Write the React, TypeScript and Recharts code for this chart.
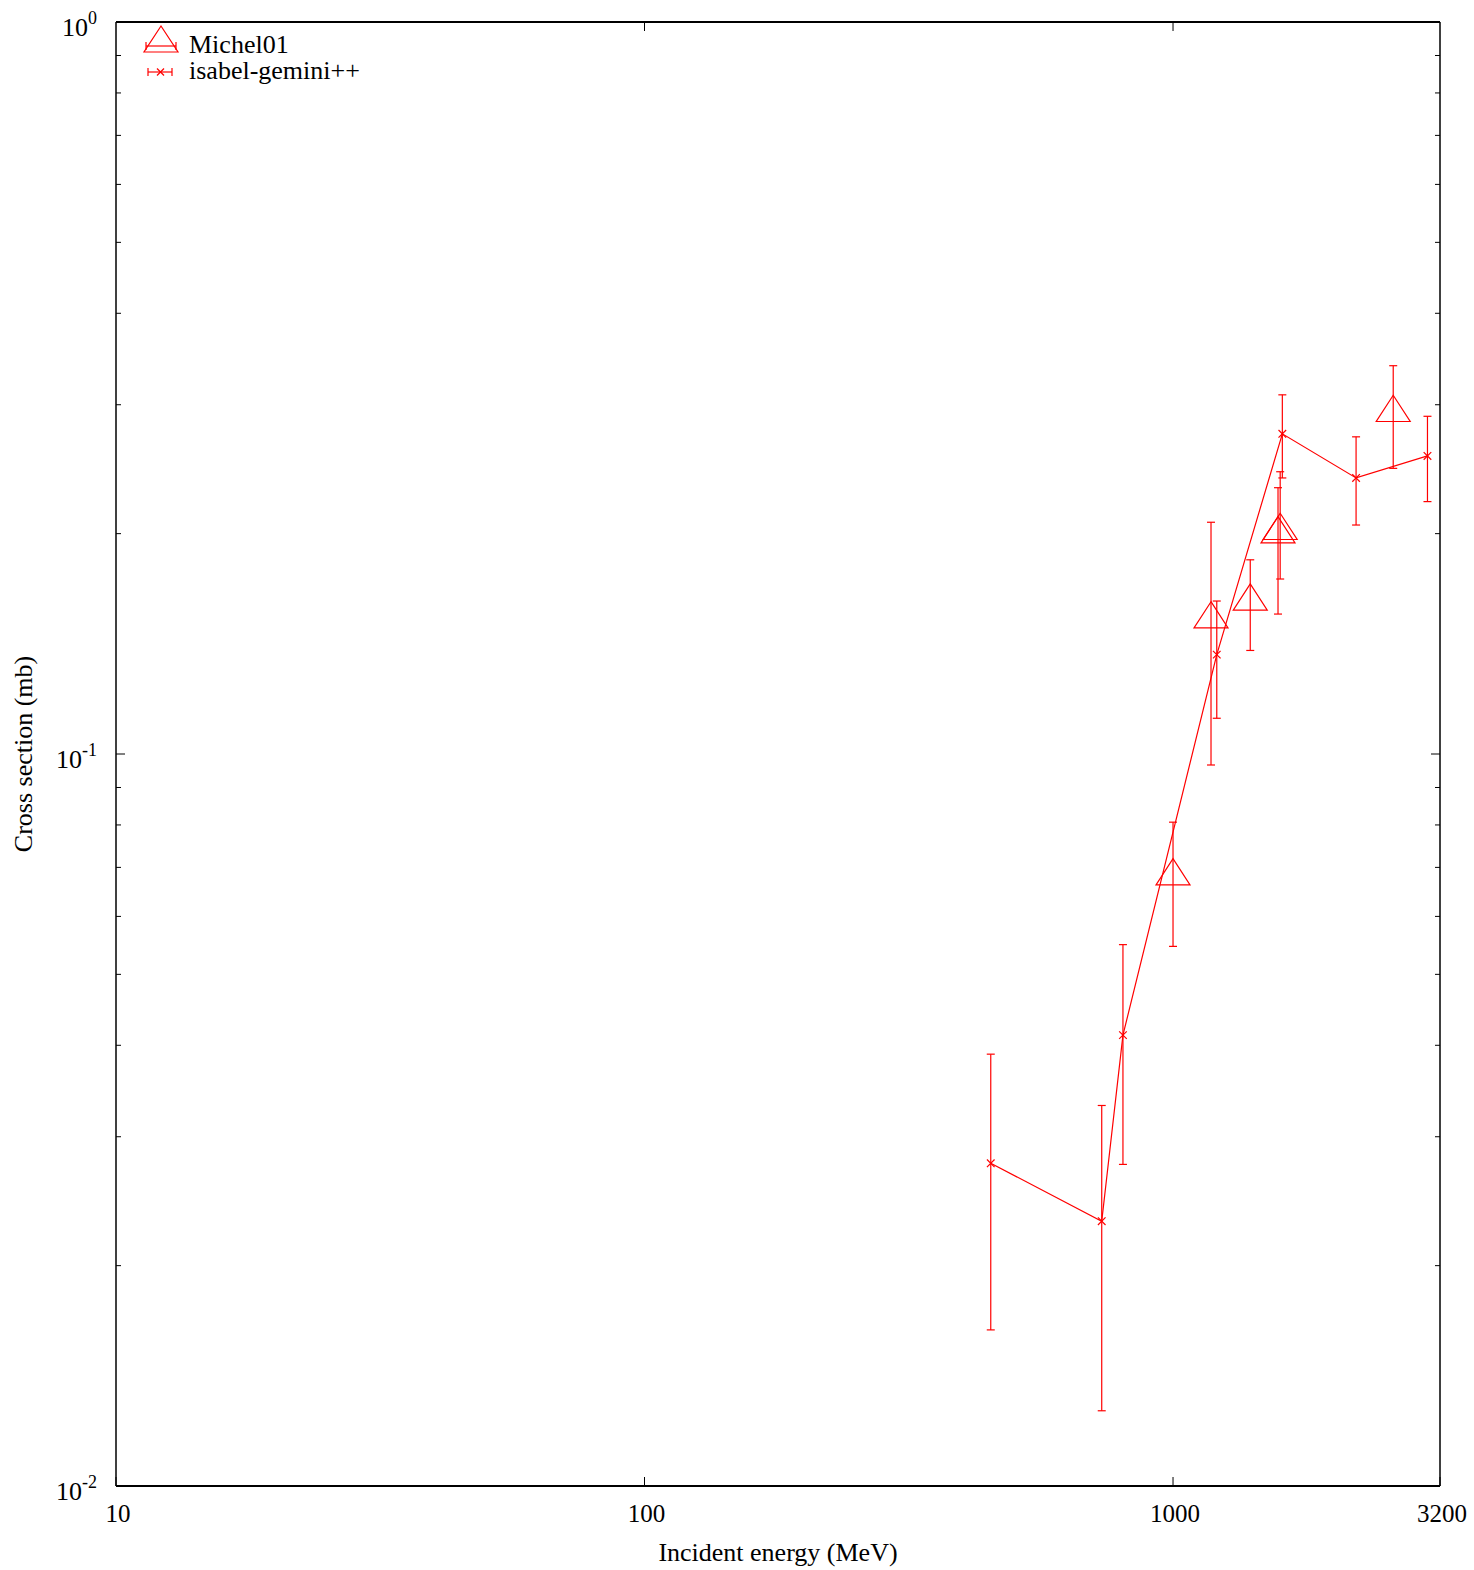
import React from 'react'
import { ComposedChart, Scatter, XAxis, YAxis, ErrorBar, Legend, Label } from 'recharts'

// Michel01 measurements (energy MeV, cross section mb, error bounds)
const michelEnergy = [1000, 1180, 1400, 1595, 1580, 2610]
const michelXs = [0.0681, 0.1528, 0.1616, 0.2018, 0.1997, 0.2925]
const michelLow = [0.0546, 0.0966, 0.1385, 0.1734, 0.1553, 0.2456]
const michelHigh = [0.0807, 0.2073, 0.1842, 0.243, 0.2311, 0.3392]

// isabel-gemini++ calculation
const isabelEnergy = [452, 733, 804, 1210, 1610, 2220, 3030]
const isabelXs = [0.0276, 0.023, 0.0413, 0.1367, 0.2738, 0.2383, 0.2554]
const isabelLow = [0.01634, 0.01267, 0.0275, 0.1119, 0.2383, 0.2055, 0.2212]
const isabelHigh = [0.0389, 0.0331, 0.0549, 0.1618, 0.3095, 0.2712, 0.2893]

const xTicks = [10, 100, 1000, 3200]
const yTicks = [
  0.01, 0.02, 0.03, 0.04, 0.05, 0.06, 0.07, 0.08, 0.09,
  0.1, 0.2, 0.3, 0.4, 0.5, 0.6, 0.7, 0.8, 0.9, 1,
]

const RED = '#ff0000'
const FONT = '"Liberation Serif", "Times New Roman", serif'

const buildSeries = (xs: number[], ys: number[], lo: number[], hi: number[]) =>
  xs.map((x, i) => ({ x, y: ys[i], err: [ys[i] - lo[i], hi[i] - ys[i]] }))

const michelData = buildSeries(michelEnergy, michelXs, michelLow, michelHigh)
const isabelData = buildSeries(isabelEnergy, isabelXs, isabelLow, isabelHigh)

const isMajor = (v: number) => Math.abs(Math.log10(v) - Math.round(Math.log10(v))) < 1e-6

function Triangle({ cx, cy }: any) {
  if (cx == null || cy == null) return null
  const pts = `${cx},${cy - 17.5} ${cx - 17},${cy + 8.7} ${cx + 17},${cy + 8.7}`
  return <polygon points={pts} fill="none" stroke={RED} strokeWidth={1.2} />
}

function Cross({ cx, cy }: any) {
  if (cx == null || cy == null) return null
  const s = 3.8
  return (
    <g stroke={RED} strokeWidth={1.2}>
      <line x1={cx - s} y1={cy - s} x2={cx + s} y2={cy + s} />
      <line x1={cx - s} y1={cy + s} x2={cx + s} y2={cy - s} />
    </g>
  )
}

function LeftTick({ x, y, payload }: any) {
  const v = payload.value
  const major = isMajor(v)
  return (
    <g>
      <line x1={x} x2={x + (major ? 9 : 5)} y1={y} y2={y} stroke="#000" />
      {major && (
        <text x={x - 19} y={y + 14} textAnchor="end" fontFamily={FONT} fontSize={26} fill="#000">
          <tspan>10</tspan>
          <tspan dy={-12} fontSize={18}>{Math.round(Math.log10(v))}</tspan>
        </text>
      )}
    </g>
  )
}

function RightTick({ x, y, payload }: any) {
  const major = isMajor(payload.value)
  return <line x1={x} x2={x - (major ? 9 : 5)} y1={y} y2={y} stroke="#000" />
}

function BottomTick({ x, y, payload }: any) {
  return (
    <g>
      <line x1={x} x2={x} y1={y} y2={y - 9} stroke="#000" />
      <text x={x + 2} y={y + 36} textAnchor="middle" fontFamily={FONT} fontSize={25} fill="#000">
        {payload.value}
      </text>
    </g>
  )
}

function TopTick({ x, y }: any) {
  return <line x1={x} x2={x} y1={y} y2={y + 9} stroke="#000" />
}

function LegendBox() {
  return (
    <svg width={260} height={70} style={{ overflow: 'visible' }}>
      <g stroke={RED} strokeWidth={1.2} fill="none">
        <polygon points="21,6 4,32 38,32" />
        <line x1={6} x2={36} y1={26} y2={26} />
        <line x1={6} x2={6} y1={22} y2={30} />
        <line x1={36} x2={36} y1={22} y2={30} />
        <line x1={8} x2={32} y1={52} y2={52} />
        <line x1={8} x2={8} y1={48} y2={56} />
        <line x1={32} x2={32} y1={48} y2={56} />
        <line x1={17} y1={48.5} x2={24} y2={55.5} />
        <line x1={17} y1={55.5} x2={24} y2={48.5} />
      </g>
      <text x={49} y={33} fontFamily={FONT} fontSize={26} fill="#000">Michel01</text>
      <text x={49} y={59} fontFamily={FONT} fontSize={26} fill="#000">isabel-gemini++</text>
    </svg>
  )
}

export default function App() {
  return (
    <div style={{ position: 'absolute', left: 0, top: 0, background: '#fff' }}>
      <ComposedChart width={1474} height={1570} margin={{ top: 0, right: 0, bottom: 0, left: 0 }}>
        <XAxis
          xAxisId="bottom"
          dataKey="x"
          type="number"
          scale="log"
          domain={[10, 3200]}
          ticks={xTicks}
          interval={0}
          allowDataOverflow
          height={84}
          tickSize={0}
          tickMargin={0}
          tick={<BottomTick />}
          axisLine={{ stroke: '#000', strokeWidth: 2 }}
        >
          <Label
            content={({ viewBox }: any) => (
              <text
                x={viewBox.x + viewBox.width / 2}
                y={viewBox.y + 75}
                textAnchor="middle"
                fontFamily={FONT}
                fontSize={26}
                fill="#000"
              >
                Incident energy (MeV)
              </text>
            )}
          />
        </XAxis>
        <XAxis
          xAxisId="top"
          orientation="top"
          dataKey="x"
          type="number"
          scale="log"
          domain={[10, 3200]}
          ticks={[100, 1000]}
          interval={0}
          allowDataOverflow
          height={22}
          tickSize={0}
          tickMargin={0}
          tick={<TopTick />}
          axisLine={{ stroke: '#000', strokeWidth: 2 }}
        />
        <YAxis
          yAxisId="left"
          dataKey="y"
          type="number"
          scale="log"
          domain={[0.01, 1]}
          ticks={yTicks}
          interval={0}
          allowDataOverflow
          width={116}
          tickSize={0}
          tickMargin={0}
          tick={<LeftTick />}
          axisLine={{ stroke: '#000', strokeWidth: 1.5 }}
        >
          <Label
            content={({ viewBox }: any) => {
              const cx = viewBox.x + 32
              const cy = viewBox.y + viewBox.height / 2
              return (
                <text
                  x={cx}
                  y={cy}
                  transform={`rotate(-90, ${cx}, ${cy})`}
                  textAnchor="middle"
                  fontFamily={FONT}
                  fontSize={26}
                  fill="#000"
                >
                  Cross section (mb)
                </text>
              )
            }}
          />
        </YAxis>
        <YAxis
          yAxisId="right"
          orientation="right"
          dataKey="y"
          type="number"
          scale="log"
          domain={[0.01, 1]}
          ticks={yTicks}
          interval={0}
          allowDataOverflow
          width={34}
          tickSize={0}
          tickMargin={0}
          tick={<RightTick />}
          axisLine={{ stroke: '#000', strokeWidth: 1.5 }}
        />
        <Legend
          layout="horizontal"
          verticalAlign="middle"
          align="center"
          wrapperStyle={{ left: 140, top: 20, width: 260, height: 70 }}
          content={() => <LegendBox />}
        />
        <Scatter
          name="isabel-gemini++"
          data={isabelData}
          xAxisId="bottom"
          yAxisId="left"
          fill={RED}
          line={{ stroke: RED, strokeWidth: 1.2 }}
          lineType="joint"
          shape={(p: any) => <Cross cx={p.cx} cy={p.cy} />}
          isAnimationActive={false}
        >
          <ErrorBar dataKey="err" direction="y" width={4} stroke={RED} strokeWidth={1.2} isAnimationActive={false} />
        </Scatter>
        <Scatter
          name="Michel01"
          data={michelData}
          xAxisId="bottom"
          yAxisId="left"
          fill={RED}
          shape={(p: any) => <Triangle cx={p.cx} cy={p.cy} />}
          isAnimationActive={false}
        >
          <ErrorBar dataKey="err" direction="y" width={4} stroke={RED} strokeWidth={1.2} isAnimationActive={false} />
        </Scatter>
      </ComposedChart>
    </div>
  )
}
